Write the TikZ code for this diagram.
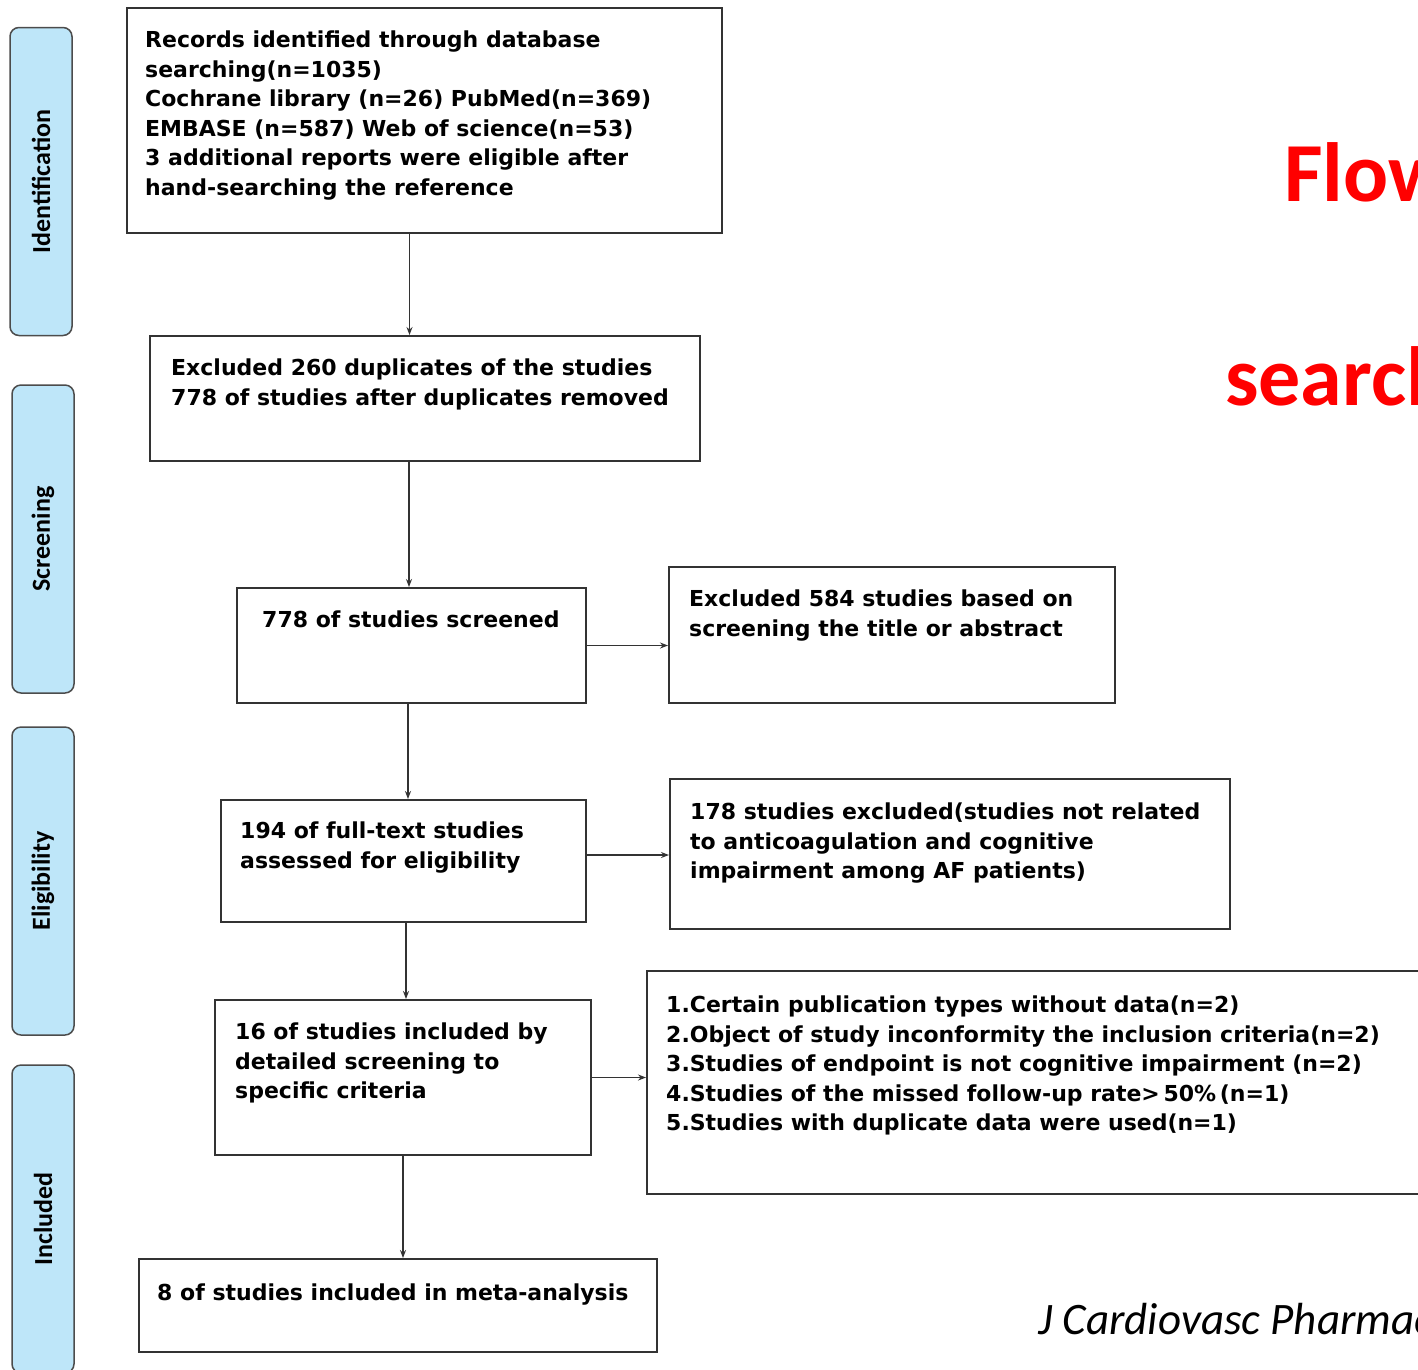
\documentclass[tikz,border=0pt]{standalone}
\usepackage{fontspec}
\setmainfont{DejaVu Sans}
\newfontfamily\calib{Carlito}
\usetikzlibrary{arrows.meta,calc}
\definecolor{sideblue}{HTML}{BEE6F9}
\definecolor{boxline}{HTML}{333333}
\begin{document}
\begin{tikzpicture}[x=1pt,y=-1pt,
  box/.style={draw=boxline, line width=2pt, inner sep=0pt},
  txt/.style={font=\fontsize{22}{29.5}\selectfont\bfseries, align=left, inner sep=0pt, anchor=north west},
  side/.style={draw=black!70, fill=sideblue, line width=1.5pt, rounded corners=9pt,
    minimum width=308pt, minimum height=62pt, inner sep=0pt, rotate=90,
    font=\calib\fontsize{26}{30}\selectfont\bfseries},
  arr/.style={-{Stealth[length=8pt,width=6pt]}, line width=1.8pt, draw=boxline}]
\useasboundingbox (0,0) rectangle (1418,1369);
\fill[white] (0,0) rectangle (1418,1369);
\clip (0,0) rectangle (1418,1369);

% side labels
\node[side] (s1) at (41,181.5) {Identification};
\node[side] (s2) at (43,539) {Screening};
\node[side] (s3) at (43,881) {Eligibility};
\node[side] (s4) at (43,1219) {Included};

% boxes
\node[box, minimum width=595, minimum height=225] (b1) at (424.5,120.5) {};
\node[box, minimum width=550, minimum height=125] (b2) at (425,398.5) {};
\node[box, minimum width=349, minimum height=115] (b3) at (411.5,645.5) {};
\node[box, minimum width=446, minimum height=136] (b4) at (892,635) {};
\node[box, minimum width=365, minimum height=122] (b5) at (403.5,861) {};
\node[box, minimum width=560, minimum height=150] (b6) at (950,854) {};
\node[box, minimum width=376, minimum height=155] (b7) at (403,1077.5) {};
\node[box, minimum width=793, minimum height=223] (b8) at (1043.5,1082.5) {};
\node[box, minimum width=518, minimum height=93] (b9) at (398,1305.5) {};

% texts
\node[txt] (t1) at (145,31) {Records identified through database\\searching(n=1035)\\Cochrane library (n=26) PubMed(n=369)\\EMBASE (n=587) Web of science(n=53)\\3 additional reports were eligible after\\hand-searching the reference};
\node[txt] (t2) at (171,359) {Excluded 260 duplicates of the studies\\778 of studies after duplicates removed};
\node[txt] (t3) at (262,611) {778 of studies screened};
\node[txt] (t4) at (689,590) {Excluded 584 studies based on\\screening the title or abstract};
\node[txt] (t5) at (240,822) {194 of full-text studies\\assessed for eligibility};
\node[txt] (t6) at (690,803) {178 studies excluded(studies not related\\to anticoagulation and cognitive\\impairment among AF patients)};
\node[txt] (t7) at (235,1023) {16 of studies included by\\detailed screening to\\specific criteria};
\node[txt] (t8) at (666,996) {1.Certain publication types without data(n=2)\\2.Object of study inconformity the inclusion criteria(n=2)\\3.Studies of endpoint is not cognitive impairment (n=2)\\4.Studies of the missed follow-up rate>\,50\%\,(n=1)\\5.Studies with duplicate data were used(n=1)};
\node[txt] (t9) at (157,1284) {8 of studies included in meta-analysis};

% connectors
\coordinate (p1) at ($(b1.south)+(-15,0)$);
\coordinate (p2) at ($(b2.south)+(-16,0)$);
\coordinate (p3) at ($(b3.south)+(-3.5,0)$);
\coordinate (p5) at ($(b5.south)+(2.5,0)$);
\coordinate (q5) at ($(b5.east)+(0,-6)$);
\draw[arr] (p1) -- (p1 |- b2.north);
\draw[arr] (p2) -- (p2 |- b3.north);
\draw[arr] (p3) -- (p3 |- b5.north);
\draw[arr] (p5) -- (p5 |- b7.north);
\draw[arr] (b7.south) -- (b7.south |- b9.north);
\draw[arr] (b3.east) -- (b3.east -| b4.west);
\draw[arr] (q5) -- (q5 -| b6.west);
\draw[arr] (b7.east) -- (b7.east -| b8.west);

% titles
\node[font=\calib\fontsize{84}{90}\selectfont\bfseries, text=red, anchor=base west, inner sep=0pt] (ti1) at (1284,201) {Flow chart};
\node[font=\calib\fontsize{84}{90}\selectfont\bfseries, text=red, anchor=base west, inner sep=0pt] (ti2) at (1225,405) {search};
\node[font=\calib\fontsize{45}{52}\selectfont\itshape, anchor=base west, inner sep=0pt] (jr) at (1038,1334) {J Cardiovasc Pharmacol};
\end{tikzpicture}
\end{document}
